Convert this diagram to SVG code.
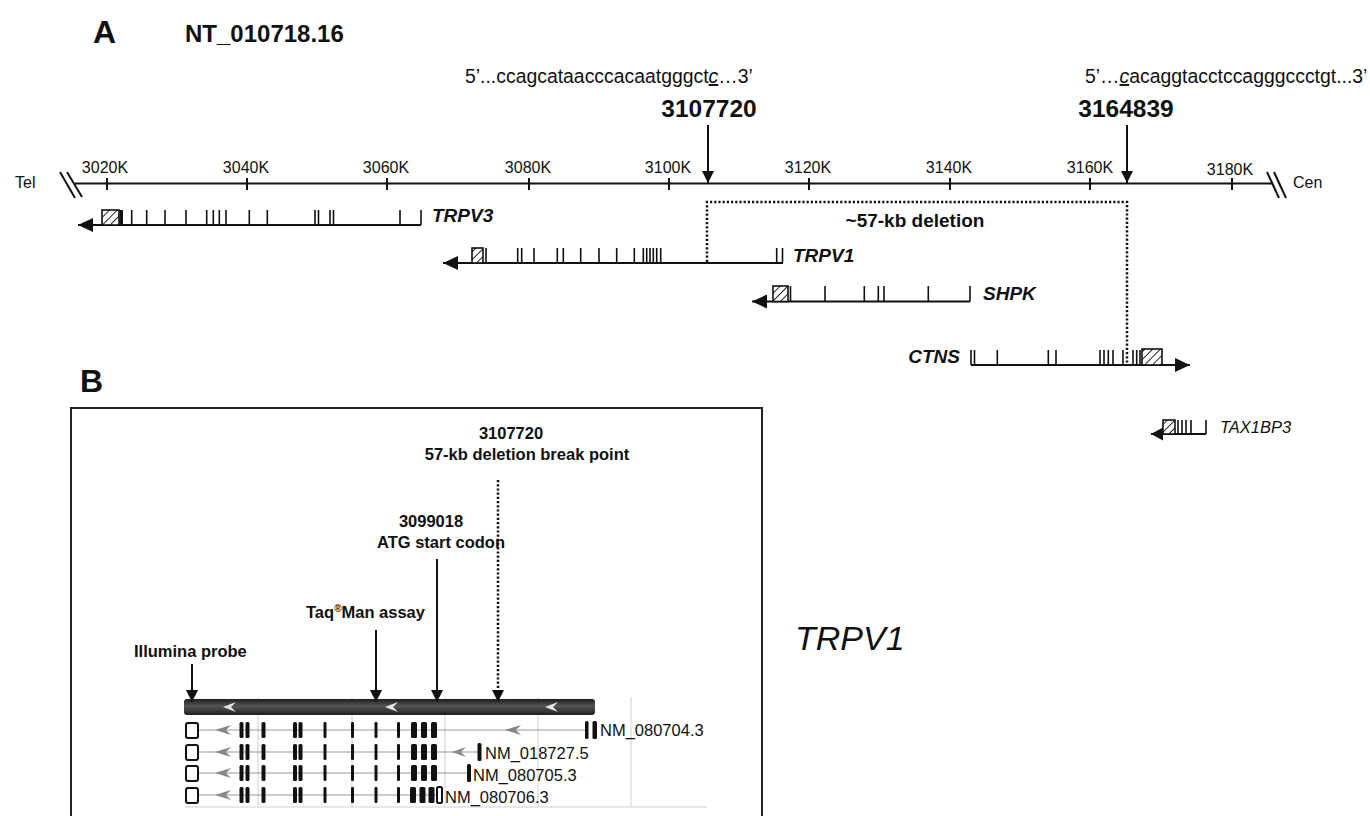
<svg xmlns="http://www.w3.org/2000/svg" width="1370" height="816" viewBox="0 0 1370 816">
<style>
text{font-family:"Liberation Sans",Arial,sans-serif;fill:#111}
.tick{font-size:16px;text-anchor:middle}
.gl{font-size:19px;font-weight:bold;font-style:italic}
.bl{font-size:16.5px;font-weight:bold}
.ln{stroke:#111;stroke-width:2;fill:none}
.ex{stroke:#111;stroke-width:1.6;fill:none}
.hb{fill:url(#hatch);stroke:#111;stroke-width:1.6}
.dot{stroke:#111;stroke-width:2.5;stroke-dasharray:2.2 2;fill:none}
.row{stroke:#999;stroke-width:1;fill:none}
.grid{stroke:#cfcfcf;stroke-width:1;fill:none}
.bx{fill:#111}
.ob{fill:#fff;stroke:#111;stroke-width:2}
.gc{fill:#888}
.wc{fill:#e6e6e6}
.nm{font-size:16.5px}
</style>
<defs>
<pattern id="hatch" patternUnits="userSpaceOnUse" width="5.5" height="5.5" patternTransform="rotate(45)">
<rect width="5.5" height="5.5" fill="#fff"/>
<line x1="0" y1="0" x2="0" y2="5.5" stroke="#111" stroke-width="1.8"/>
</pattern>
<marker id="ah" markerUnits="userSpaceOnUse" markerWidth="14" markerHeight="14" refX="12" refY="6" orient="auto">
<path d="M0,0 L12,6 L0,12 z" fill="#111"/>
</marker>
<marker id="gh" markerUnits="userSpaceOnUse" markerWidth="16" markerHeight="16" refX="15" refY="7" orient="auto-start-reverse">
<path d="M0,0 L15,7 L0,14 z" fill="#111"/>
</marker>
<marker id="gs" markerUnits="userSpaceOnUse" markerWidth="14" markerHeight="14" refX="12" refY="6.5" orient="auto-start-reverse">
<path d="M0,0 L12,6.5 L0,13 z" fill="#111"/>
</marker>
<linearGradient id="bar" x1="0" y1="0" x2="0" y2="1">
<stop offset="0" stop-color="#1e1e1e"/>
<stop offset="0.45" stop-color="#555"/>
<stop offset="1" stop-color="#1e1e1e"/>
</linearGradient>
</defs>

<g id="labels">
<text x="93" y="43" font-size="32" font-weight="bold">A</text>
<text x="185" y="42" font-size="24" font-weight="bold">NT_010718.16</text>
<text x="465" y="83" font-size="19.4">5’...ccagcataacccacaatgggct<tspan text-decoration="underline" font-style="italic">c</tspan>…3’</text>
<text x="1085" y="83" font-size="19.4">5’…<tspan text-decoration="underline" font-style="italic">c</tspan>acaggtacctccagggccctgt...3’</text>
<text x="709" y="117" font-size="24.5" font-weight="bold" text-anchor="middle">3107720</text>
<text x="1126" y="117" font-size="24.5" font-weight="bold" text-anchor="middle">3164839</text>
<text x="915" y="227" font-size="19" font-weight="bold" text-anchor="middle">~57-kb deletion</text>
<text x="80" y="392" font-size="32" font-weight="bold">B</text>
<text x="795" y="650" font-size="34" font-style="italic">TRPV1</text>
</g>

<g id="axis">
<line class="ln" x1="75" y1="183.5" x2="1273" y2="183.5" stroke-width="2.5"/>
<path class="ln" d="M60,172 L75,198 M67,172 L82,197 M1267,172 L1279,198 M1274,172 L1286,198" stroke-width="1.6"/>
<path class="ln" d="M107,178 V190 M247,178 V190 M387,178 V190 M529,178 V190 M669,178 V190 M809,178 V190 M950,178 V190 M1090,178 V190 M1232,178 V190" stroke-width="1.8"/>
<text x="15" y="188" font-size="16">Tel</text>
<text x="1293" y="188" font-size="16">Cen</text>
<text class="tick" x="105" y="173">3020K</text>
<text class="tick" x="246" y="173">3040K</text>
<text class="tick" x="386" y="173">3060K</text>
<text class="tick" x="528" y="173">3080K</text>
<text class="tick" x="668" y="173">3100K</text>
<text class="tick" x="808" y="173">3120K</text>
<text class="tick" x="949" y="173">3140K</text>
<text class="tick" x="1090" y="173">3160K</text>
<text class="tick" x="1230" y="175">3180K</text>
</g>

<g id="gene-TRPV3">
<line class="ln" x1="421" y1="225" x2="78" y2="225" marker-end="url(#gh)"/>
<rect class="hb" x="102" y="210" width="17" height="15"/>
<rect class="bx" x="119.5" y="210" width="3.5" height="15"/>
<path class="ex" d="M131.7,210V225M146.7,210V225M165,210V225M186,210V225M206.7,210V225M213.3,210V225M219.3,210V225M226,210V225M249.3,210V225M267.3,210V225M315,210V225M318.5,210V225M330,210V225M333.5,210V225M400,210V225M421,210V225"/>
<text class="gl" x="432" y="222">TRPV3</text>
</g>

<g id="gene-TRPV1">
<line class="ln" x1="783" y1="263" x2="443" y2="263" marker-end="url(#gh)"/>
<rect class="hb" x="472" y="248" width="11" height="15"/>
<path class="ex" d="M486,248V263M517.7,248V263M521.7,248V263M534,248V263M557.3,248V263M563.3,248V263M580.7,248V263M599,248V263M616.7,248V263M634.3,248V263M643.3,248V263M646.7,248V263M650,248V263M653.3,248V263M656.7,248V263M660.7,248V263M776.7,248V263M782.5,248V263"/>
<text class="gl" x="793" y="262">TRPV1</text>
</g>

<g id="gene-SHPK">
<line class="ln" x1="970" y1="301.5" x2="752" y2="301.5" marker-end="url(#gh)"/>
<rect class="hb" x="773" y="286" width="15" height="15.5"/>
<path class="ex" d="M790.5,286V301.5M825,286V301.5M864.3,286V301.5M878.3,286V301.5M884,286V301.5M928.3,286V301.5M970,286V301.5"/>
<text class="gl" x="983" y="300">SHPK</text>
</g>

<g id="gene-CTNS">
<line class="ln" x1="971" y1="365" x2="1190" y2="365" marker-end="url(#gh)"/>
<rect class="hb" x="1142" y="349" width="20" height="16"/>
<path class="ex" d="M971,350V365M974.5,350V365M997.3,350V365M1048.3,350V365M1056,350V365M1100,350V365M1104,350V365M1108.3,350V365M1113,350V365M1123,350V365M1133,350V365M1136.7,350V365M1140,350V365"/>
<text class="gl" x="960" y="363" text-anchor="end">CTNS</text>
</g>

<g id="gene-TAX1BP3">
<line class="ln" x1="1206" y1="434" x2="1151" y2="434" marker-end="url(#gs)"/>
<rect class="hb" x="1163" y="420" width="12" height="14"/>
<path class="ex" d="M1178,420V434M1182,420V434M1186,420V434M1191,420V434M1206,420V434"/>
<text x="1220" y="433" font-size="16.5" font-style="italic">TAX1BP3</text>
</g>

<g id="panel-B-frame">
<path d="M71,816 V408 H762 V816" fill="none" stroke="#222" stroke-width="2"/>
</g>

<g id="B-labels">
<text class="bl" x="511" y="439" text-anchor="middle">3107720</text>
<text class="bl" x="527" y="460" text-anchor="middle">57-kb deletion break point</text>
<text class="bl" x="431" y="527" text-anchor="middle">3099018</text>
<text class="bl" x="441" y="548" text-anchor="middle">ATG start codon</text>
<text class="bl" x="306" y="618">Taq<tspan font-size="10" dy="-6">®</tspan><tspan dy="6">Man assay</tspan></text>
<text class="bl" x="134" y="657">Illumina probe</text>
</g>

<g id="B-track">
<path class="grid" d="M258,697V807M352,697V807M445,697V807M538,697V807M631,697V807M185,807H707"/>
<rect x="184" y="699" width="411" height="16" rx="3" fill="url(#bar)"/>
<path class="wc" d="M236,702 L223,707 L236,712 L231,707 z"/>
<path class="wc" d="M398,702 L385,707 L398,712 L393,707 z"/>
<path class="wc" d="M558,702 L545,707 L558,712 L553,707 z" fill="#aaa"/>
</g>

<g id="B-transcripts">
<path class="row" d="M199,730H586M199,752H478M199,773H468M199,795H437"/>
<g id="tx-NM_080704.3">
<rect class="ob" x="186" y="723" width="12" height="15" rx="2"/>
<path class="gc" d="M231,725 L215,730 L231,735 L226,730 z"/>
<path class="gc" d="M521,725 L505,730 L521,735 L516,730 z"/>
<rect class="bx" x="239.5" y="722" width="4" height="16" rx="1.5"/><rect class="bx" x="245.5" y="722" width="4" height="16" rx="1.5"/>
<rect class="bx" x="261.5" y="722" width="4" height="16" rx="1.5"/>
<rect class="bx" x="293" y="722" width="4" height="16" rx="1.5"/><rect class="bx" x="298.5" y="722" width="4" height="16" rx="1.5"/>
<rect class="bx" x="323.5" y="722" width="3" height="16" rx="1.2"/>
<rect class="bx" x="351" y="722" width="3" height="16" rx="1.2"/>
<rect class="bx" x="374.5" y="722" width="3" height="16" rx="1.2"/>
<rect class="bx" x="397" y="722" width="3" height="16" rx="1.2"/>
<rect class="bx" x="411" y="722" width="6" height="16" rx="1.5"/><rect class="bx" x="421" y="722" width="6" height="16" rx="1.5"/><rect class="bx" x="431" y="722" width="6" height="16" rx="1.5"/>
<rect class="bx" x="585" y="721" width="3.5" height="18" rx="1.5"/><rect class="bx" x="592.5" y="721" width="4.5" height="18" rx="1.5"/>
<text class="nm" x="600" y="736">NM_080704.3</text>
</g>
<g id="tx-NM_018727.5">
<rect class="ob" x="186" y="745" width="12" height="15" rx="2"/>
<path class="gc" d="M231,747 L215,752 L231,757 L226,752 z"/>
<path class="gc" d="M466,747 L452,752 L466,757 L461,752 z"/>
<rect class="bx" x="239.5" y="744" width="4" height="16" rx="1.5"/><rect class="bx" x="245.5" y="744" width="4" height="16" rx="1.5"/>
<rect class="bx" x="261.5" y="744" width="4" height="16" rx="1.5"/>
<rect class="bx" x="293" y="744" width="4" height="16" rx="1.5"/><rect class="bx" x="298.5" y="744" width="4" height="16" rx="1.5"/>
<rect class="bx" x="323.5" y="744" width="3" height="16" rx="1.2"/>
<rect class="bx" x="351" y="744" width="3" height="16" rx="1.2"/>
<rect class="bx" x="374.5" y="744" width="3" height="16" rx="1.2"/>
<rect class="bx" x="397" y="744" width="3" height="16" rx="1.2"/>
<rect class="bx" x="411" y="744" width="6" height="16" rx="1.5"/><rect class="bx" x="421" y="744" width="6" height="16" rx="1.5"/><rect class="bx" x="431" y="744" width="6" height="16" rx="1.5"/>
<rect class="bx" x="477.5" y="743" width="4" height="18" rx="1.5"/>
<text class="nm" x="485" y="759">NM_018727.5</text>
</g>
<g id="tx-NM_080705.3">
<rect class="ob" x="186" y="766" width="12" height="15" rx="2"/>
<path class="gc" d="M231,768 L215,773 L231,778 L226,773 z"/>
<rect class="bx" x="239.5" y="765" width="4" height="16" rx="1.5"/><rect class="bx" x="245.5" y="765" width="4" height="16" rx="1.5"/>
<rect class="bx" x="261.5" y="765" width="4" height="16" rx="1.5"/>
<rect class="bx" x="293" y="765" width="4" height="16" rx="1.5"/><rect class="bx" x="298.5" y="765" width="4" height="16" rx="1.5"/>
<rect class="bx" x="323.5" y="765" width="3" height="16" rx="1.2"/>
<rect class="bx" x="351" y="765" width="3" height="16" rx="1.2"/>
<rect class="bx" x="374.5" y="765" width="3" height="16" rx="1.2"/>
<rect class="bx" x="397" y="765" width="3" height="16" rx="1.2"/>
<rect class="bx" x="411" y="765" width="6" height="16" rx="1.5"/><rect class="bx" x="421" y="765" width="6" height="16" rx="1.5"/><rect class="bx" x="431" y="765" width="6" height="16" rx="1.5"/>
<rect class="bx" x="467" y="764" width="4" height="18" rx="1.5"/>
<text class="nm" x="473" y="781">NM_080705.3</text>
</g>
<g id="tx-NM_080706.3">
<rect class="ob" x="186" y="788" width="12" height="15" rx="2"/>
<path class="gc" d="M231,790 L215,795 L231,800 L226,795 z"/>
<rect class="bx" x="239.5" y="787" width="4" height="16" rx="1.5"/><rect class="bx" x="245.5" y="787" width="4" height="16" rx="1.5"/>
<rect class="bx" x="261.5" y="787" width="4" height="16" rx="1.5"/>
<rect class="bx" x="293" y="787" width="4" height="16" rx="1.5"/><rect class="bx" x="298.5" y="787" width="4" height="16" rx="1.5"/>
<rect class="bx" x="323.5" y="787" width="3" height="16" rx="1.2"/>
<rect class="bx" x="351" y="787" width="3" height="16" rx="1.2"/>
<rect class="bx" x="374.5" y="787" width="3" height="16" rx="1.2"/>
<rect class="bx" x="397" y="787" width="3" height="16" rx="1.2"/>
<rect class="bx" x="410" y="787" width="6" height="16" rx="1.5"/><rect class="bx" x="419.5" y="787" width="6" height="16" rx="1.5"/><rect class="bx" x="428.5" y="787" width="6" height="16" rx="1.5"/>
<rect class="ob" x="437" y="787" width="5" height="16" rx="1.5"/>
<text class="nm" x="445" y="803">NM_080706.3</text>
</g>
</g>

<g id="connectors">
<line class="ln" x1="708" y1="125" x2="708" y2="183" marker-end="url(#ah)"/>
<line class="ln" x1="1127" y1="125" x2="1127" y2="183" marker-end="url(#ah)"/>
<path class="dot" d="M707,262 V202 H1127 V365"/>
<line class="ln" x1="192" y1="664" x2="192" y2="702" marker-end="url(#ah)"/>
<line class="ln" x1="376" y1="630" x2="376" y2="702" marker-end="url(#ah)"/>
<line class="ln" x1="437" y1="559" x2="437" y2="702" marker-end="url(#ah)"/>
<line class="dot" x1="498" y1="480" x2="498" y2="692"/>
<line x1="498" y1="688" x2="498" y2="702" stroke="none" marker-end="url(#ah)"/>
</g>
</svg>
